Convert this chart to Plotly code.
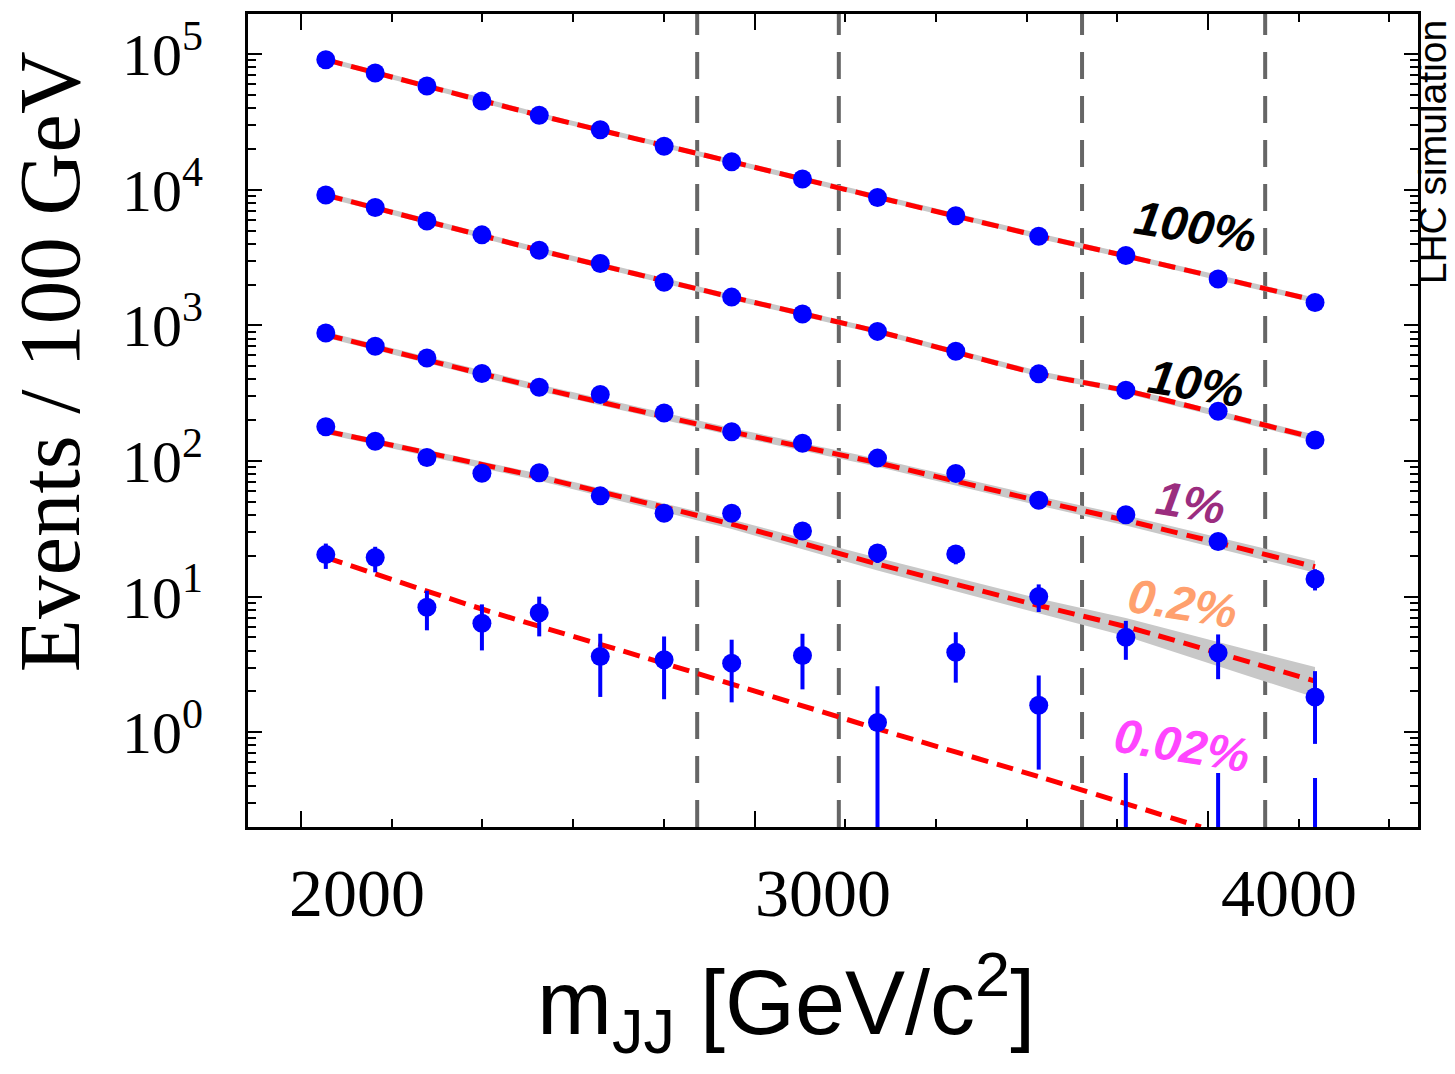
import plotly.graph_objects as go

# ---------------- data ----------------
mass = [1933, 2039, 2150, 2268, 2391, 2522, 2659, 2804, 2956, 3117, 3285, 3463, 3650, 3848, 4056]

ev_100 = [90800, 72500, 58200, 45100, 35400, 27700, 20900, 16100, 12000, 8770, 6440, 4540, 3270, 2200, 1476]
ev_10 = [9140, 7410, 5890, 4650, 3580, 2860, 2080, 1616, 1211, 903, 644, 439, 333, 233, 143]
ev_1 = [878, 701, 575, 442, 350, 309, 226, 164, 135, 105, 81, 51.4, 40.1, 25.5, 13.5]
err_1 = [19, 17, 15.5, 13.6, 12, 11.4, 9.8, 8.3, 7.5, 6.7, 5.9, 4.7, 4.1, 3.3, 2.4]
ev_02 = [179, 140, 106, 81.2, 82, 55.3, 41.2, 41.2, 30.5, 21.0, 20.6, 10.0, 5.02, 3.86, 1.82]
err_02 = [9.6, 8.5, 7.4, 6.5, 6.5, 5.4, 4.6, 4.6, 4.0, 3.3, 3.3, 2.3, 1.6, 1.4, 1.0]
ev_002 = [20.4, 19.4, 8.34, 6.36, 7.59, 3.62, 3.42, 3.23, 3.68, 1.18, 3.89, 1.58, 0.01, 0.01, 0.01]
err_002_up = [4.2, 3.9, 2.7, 2.4, 2.4, 1.7, 1.66, 1.58, 1.64, 1.0, 1.57, 1.04, 0.49, 0.49, 0.45]
err_002_dn = [4.4, 4.3, 2.7, 2.35, 2.5, 1.8, 1.67, 1.57, 1.61, 1.17, 1.57, 1.05, 0, 0, 0]

fit_x = [1933, 2391, 2804, 3117, 3463, 3650, 4056]
fit_100 = [91000, 35400, 16100, 8800, 4560, 3250, 1530]
band_100_lo = [87000, 33900, 15400, 8420, 4360, 3110, 1460]
band_100_hi = [95000, 37000, 16800, 9200, 4770, 3400, 1600]
fit_10 = [9140, 3580, 1616, 903, 439, 330, 148]
band_10_lo = [8720, 3420, 1540, 862, 419, 315, 140]
band_10_hi = [9580, 3750, 1690, 946, 460, 346, 156]
fit_1 = [853, 346, 164, 97, 50.8, 36.5, 16.6]
band_1_lo = [810, 327, 154, 90.5, 47.0, 33.5, 15.0]
band_1_hi = [897, 366, 175, 104, 55.0, 39.8, 18.4]
fit_02 = [166, 76, 34.2, 17.4, 8.6, 6.0, 2.38]
band_02_lo = [158, 71.5, 31.5, 15.6, 7.55, 5.1, 1.80]
band_02_hi = [174, 80.5, 37.0, 19.3, 9.7, 6.95, 3.02]
fit_x_002 = [1933, 2268, 2659, 3117, 3463, 3811]
fit_002 = [19.5, 8.1, 3.22, 1.06, 0.47, 0.2]

window_edges = [2730, 3034, 3556, 3949]

label_text = ["100%", "10%", "1%", "0.2%", "0.02%"]
label_x = [3800, 3800, 3788, 3771, 3771]
label_y = [3.728, 2.574, 1.691, 0.949, -0.095]   # log10 positions
label_color = ["#000000", "#000000", "#9b2d7f", "#ffa06e", "#ff45ff"]

y_tick_vals = [1, 10, 100, 1000, 10000, 100000]
y_tick_text = ["10<sup>0</sup>", "10<sup>1</sup>", "10<sup>2</sup>",
               "10<sup>3</sup>", "10<sup>4</sup>", "10<sup>5</sup>"]
x_tick_vals = [2000, 3000, 4000]
x_tick_text = ["2000", "3000", "4000"]

# ---------------- figure ----------------
BLUE = "#0000ff"
RED = "#ff0000"
BAND = "#c8c8c8"

fig = go.Figure()

bands = [(band_100_lo, band_100_hi), (band_10_lo, band_10_hi),
         (band_1_lo, band_1_hi), (band_02_lo, band_02_hi)]
for lo, hi in bands:
    fig.add_trace(go.Scatter(x=fit_x, y=lo, mode="lines", line=dict(width=0, color=BAND),
                             hoverinfo="skip", showlegend=False))
    fig.add_trace(go.Scatter(x=fit_x, y=hi, mode="lines", line=dict(width=0, color=BAND),
                             fill="tonexty", fillcolor=BAND, hoverinfo="skip", showlegend=False))

fit_line = dict(color=RED, width=5, dash="17px,9px", shape="spline", smoothing=0.6)
for fy in [fit_100, fit_10, fit_1, fit_02]:
    fig.add_trace(go.Scatter(x=fit_x, y=fy, mode="lines", line=fit_line, showlegend=False))
fig.add_trace(go.Scatter(x=fit_x_002, y=fit_002, mode="lines", line=fit_line, showlegend=False))

marker = dict(color=BLUE, size=19)
fig.add_trace(go.Scatter(x=mass, y=ev_100, mode="markers", marker=marker, showlegend=False))
fig.add_trace(go.Scatter(x=mass, y=ev_10, mode="markers", marker=marker, showlegend=False))
fig.add_trace(go.Scatter(x=mass, y=ev_1, mode="markers", marker=marker, showlegend=False,
                         error_y=dict(type="data", array=err_1, color=BLUE, thickness=4, width=0)))
fig.add_trace(go.Scatter(x=mass, y=ev_02, mode="markers", marker=marker, showlegend=False,
                         error_y=dict(type="data", array=err_02, color=BLUE, thickness=4, width=0)))
fig.add_trace(go.Scatter(x=mass, y=ev_002, mode="markers", marker=marker, showlegend=False,
                         error_y=dict(type="data", symmetric=False, array=err_002_up,
                                      arrayminus=err_002_dn, color=BLUE, thickness=4, width=0)))

# empty trace to carry the tick-mark axis
fig.add_trace(go.Scatter(x=[], y=[], xaxis="x2", yaxis="y", showlegend=False, hoverinfo="skip"))

for xv in window_edges:
    fig.add_vline(x=xv, line=dict(color="#666666", width=4, dash="27px,17px"), layer="below")

for t, x, y, c in zip(label_text, label_x, label_y, label_color):
    fig.add_annotation(x=x, y=y, xref="x", yref="y", text="<b><i>" + t + "</i></b>",
                       showarrow=False, textangle=9,
                       font=dict(family="Liberation Sans, Arial", size=48, color=c))

# axis titles as text
fig.add_annotation(x=-0.169, y=0.572, xref="paper", yref="paper", text="Events / 100 GeV",
                   showarrow=False, textangle=-90, xanchor="center", yanchor="middle",
                   font=dict(family="Liberation Serif, Times New Roman, serif", size=87, color="black"))
fig.add_annotation(x=0.46, y=-0.297, xref="paper", yref="paper",
                   text="m<sub>JJ</sub> [GeV/c<sup>2</sup>]",
                   showarrow=False, xanchor="center", yanchor="bottom",
                   font=dict(family="Liberation Sans, Arial, sans-serif", size=90, color="black"))
fig.add_annotation(x=1.012, y=0.83, xref="paper", yref="paper", text="LHC simulation",
                   showarrow=False, textangle=-90, xanchor="center", yanchor="middle",
                   font=dict(family="Liberation Sans, Arial, sans-serif", size=39, color="black"))

minor_y = [m * 10 ** e for e in range(-1, 6) for m in range(2, 10)]

fig.update_layout(
    width=1455, height=1074,
    margin=dict(l=248, r=37, t=14, b=247),
    paper_bgcolor="white", plot_bgcolor="white",
    showlegend=False,
    xaxis=dict(range=[1766, 4277], tickmode="array", tickvals=x_tick_vals, ticktext=x_tick_text,
               ticks="", showgrid=False, zeroline=False,
               showline=True, linecolor="black", linewidth=3, mirror=True,
               tickfont=dict(family="Liberation Serif, Times New Roman, serif", size=68, color="black"),
               ticklabelstandoff=4),
    xaxis2=dict(range=[1883, 4463], overlaying="x", anchor="y", side="bottom",
                tickmode="linear", tick0=2000, dtick=1000, ticks="inside", ticklen=16, tickwidth=2,
                tickcolor="black", showticklabels=False, showgrid=False, zeroline=False,
                showline=False, mirror="ticks",
                minor=dict(ticks="inside", ticklen=8, tickwidth=2, tickcolor="black",
                           tickmode="linear", tick0=2000, dtick=200, showgrid=False)),
    yaxis=dict(type="log", range=[-0.699, 5.296], tickmode="array", tickvals=y_tick_vals,
               ticktext=y_tick_text, ticks="inside", ticklen=14, tickwidth=2, tickcolor="black",
               showgrid=False, zeroline=False,
               showline=True, linecolor="black", linewidth=3, mirror="ticks",
               tickfont=dict(family="Liberation Serif, Times New Roman, serif", size=60, color="black"),
               ticklabelstandoff=30,
               minor=dict(ticks="inside", ticklen=8, tickwidth=2, tickcolor="black",
                          tickmode="array", tickvals=minor_y, showgrid=False)),
)

fig.write_html("out.html")
